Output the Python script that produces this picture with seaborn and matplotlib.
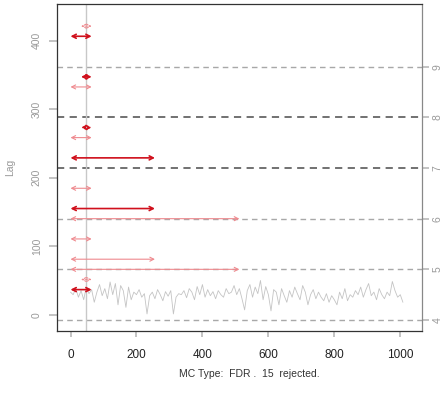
import numpy as np
import pandas as pd
import seaborn as sns
import matplotlib.pyplot as plt

# ---- data ----
series = [4.55, 4.50, 4.62, 4.45, 4.58, 4.40, 4.66, 4.52,
          4.60, 4.35, 4.55, 4.70, 4.48, 4.62, 4.42,
          4.75, 4.50, 4.72, 4.30, 4.68, 4.58, 4.25, 4.65, 4.40, 4.55,
          4.50, 4.60, 4.45, 4.52, 4.12, 4.48,
          4.55, 4.42, 4.60, 4.50, 4.38, 4.56, 4.47, 4.58, 4.12, 4.45, 4.52,
          4.50, 4.58, 4.44, 4.62, 4.55, 4.40, 4.66, 4.50, 4.70, 4.45,
          4.60, 4.48, 4.56, 4.42, 4.58, 4.50, 4.45, 4.62, 4.52,
          4.55, 4.68, 4.50, 4.62, 4.42, 4.20, 4.58, 4.70, 4.45, 4.65, 4.52,
          4.78, 4.40, 4.66, 4.50, 4.18, 4.60, 4.55, 4.30, 4.62, 4.48, 4.35,
          4.58, 4.45, 4.65, 4.52, 4.40, 4.68, 4.55, 4.30, 4.50, 4.60, 4.42,
          4.55, 4.45, 4.38, 4.52, 4.35, 4.48, 4.40, 4.30, 4.55, 4.42, 4.62, 4.38, 4.50, 4.45, 4.58,
          4.50, 4.65, 4.45, 4.60, 4.72, 4.48, 4.55, 4.40, 4.62, 4.50, 4.42, 4.55, 4.48, 4.76, 4.58, 4.45, 4.50, 4.35]
step = 8

scale_levels = [4, 5, 6, 7, 8, 9]
scale_strong = [False, False, False, True, True, False]

arr_level = [9.8, 9.6, 8.8, 8.6, 7.8, 7.6, 7.2, 6.6, 6.2, 6.0, 5.6, 5.2, 5.0, 4.8, 4.6]
arr_start = [32, 0, 32, 0, 32, 0, 0, 0, 0, 0, 0, 0, 0, 32, 0]
arr_end = [64, 64, 64, 64, 64, 64, 256, 64, 256, 512, 64, 256, 512, 64, 64]
arr_kind = ['light-dot', 'dark', 'dark', 'light', 'dark-dot', 'light', 'dark',
            'light', 'dark', 'light', 'light', 'light', 'light', 'light-dot', 'dark']

change_point = 48
left_ticks = [0, 100, 200, 300, 400]
x_ticks = [0, 200, 400, 600, 800, 1000]
caption = 'MC Type:  FDR .  15  rejected.'
left_label = 'Lag'

# ---- figure ----
sns.set_theme(style='white')
plt.rcParams['font.family'] = ['Liberation Sans', 'DejaVu Sans']

fig = plt.figure(figsize=(4.44, 4.01), dpi=100)
ax = fig.add_axes([57 / 444, 1 - 331 / 401, (421.7 - 57) / 444, (331 - 4) / 401])

df = pd.DataFrame({'t': np.arange(len(series)) * step, 'v': series})
sns.lineplot(data=df, x='t', y='v', ax=ax, color='#c4c4c4', lw=0.6)

ax.set_xlim(-41, 1065)
ax.set_ylim(3.783, 10.237)

for lvl, strong in zip(scale_levels, scale_strong):
    ax.axhline(lvl, ls=(0, (4, 3)), color='#666666' if strong else '#a8a8a8',
               lw=1.3 if strong else 1.0, zorder=1)

ax.axvline(change_point, color='#c8c8c8', lw=1.0, zorder=1)

for lvl, s, e, k in zip(arr_level, arr_start, arr_end, arr_kind):
    dark = k.startswith('dark')
    col = '#d0101c' if dark else '#ef8a8f'
    lw = 1.2 if dark else 0.8
    ls = (0, (1.5, 1.5)) if k.endswith('dot') else '-'
    ax.annotate('', xy=(e, lvl), xytext=(s, lvl),
                arrowprops=dict(arrowstyle='<->,head_length=0.35,head_width=0.18',
                                color=col, lw=lw, linestyle=ls,
                                shrinkA=0, shrinkB=0, mutation_scale=8), zorder=3)

ax.set_xlabel('')
ax.set_ylabel('')
ax.set_xticks(x_ticks)
ax.tick_params(axis='x', length=4, color='#bbbbbb', labelsize=8.5,
               labelcolor='#222222', pad=9, bottom=True)

ax.yaxis.tick_right()
ax.set_yticks(scale_levels)
ax.set_yticklabels([str(v) for v in scale_levels], rotation=90, va='center')
ax.tick_params(axis='y', right=True, length=5, color='#bbbbbb', labelsize=7.5,
               labelcolor='#999999', pad=3)

fwd = lambda r: 73.86 * (r - 4) - 7.29
inv = lambda l: (l + 7.29) / 73.86 + 4
sec = ax.secondary_yaxis('left', functions=(fwd, inv))
sec.set_yticks(left_ticks)
sec.set_yticklabels([str(v) for v in left_ticks], rotation=90, va='center')
sec.tick_params(length=6, color='#bbbbbb', labelsize=7.5, labelcolor='#999999', pad=5)
sec.spines['left'].set_visible(False)
sec.set_ylabel(left_label, color='#999999', fontsize=7.5, labelpad=12)

for sp in ax.spines.values():
    sp.set_color('#333333')
    sp.set_linewidth(0.9)
ax.spines['right'].set_color('#888888')

fig.text(0.561, 0.067, caption, ha='center', va='center', fontsize=7.5, color='#333333')

fig.savefig('out.png', dpi=100)
